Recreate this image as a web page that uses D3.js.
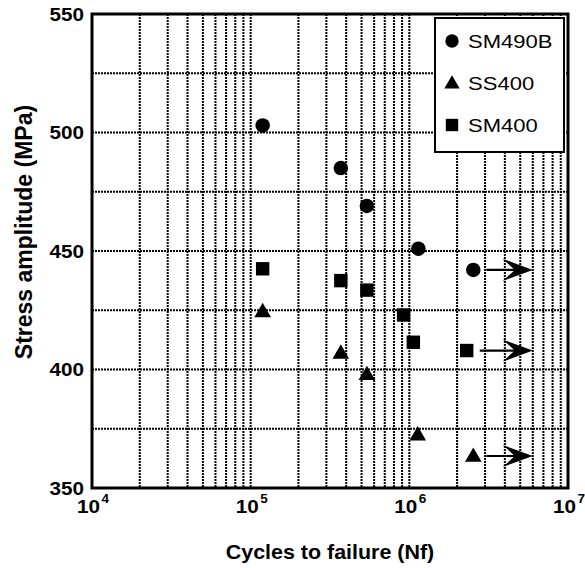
<!DOCTYPE html>
<html>
<head>
<meta charset="utf-8">
<script src="https://cdn.jsdelivr.net/npm/d3@7"></script>
<style>
  html, body { margin: 0; padding: 0; background: #fff; }
  svg { display: block; }
  text { font-family: "Liberation Sans", Arial, Helvetica, sans-serif; fill: #000; }
</style>
</head>
<body>
<svg id="chart" width="585" height="568"></svg>
<script>
// ---- data ----
const seriesNames = ["SM490B", "SS400", "SM400"];
const seriesSymbols = ["circle", "triangle", "square"];
const sm490bCycles = [1.19e5, 3.7e5, 5.4e5, 1.14e6, 2.53e6];
const sm490bStress = [503, 485, 469, 451, 442];
const ss400Cycles  = [1.19e5, 3.7e5, 5.4e5, 1.13e6, 2.53e6];
const ss400Stress  = [424.5, 407, 398, 372.5, 363.5];
const sm400Cycles  = [1.19e5, 3.7e5, 5.4e5, 9.2e5, 1.06e6, 2.3e6];
const sm400Stress  = [442.5, 437.5, 433.5, 423, 411.5, 408];
// last point of each series is a run-out (no failure), arrow drawn to:
const runoutArrowTo = 6e6;
const xTickExponents = [4, 5, 6, 7];
const yTickValues = [350, 400, 450, 500, 550];
const yGridValues = [375, 400, 425, 450, 475, 500, 525];

const cyclesBySeries = [sm490bCycles, ss400Cycles, sm400Cycles];
const stressBySeries = [sm490bStress, ss400Stress, sm400Stress];

// ---- layout ----
const svg = d3.select("#chart");
const L = 92, R = 568, T = 14, B = 488;
const x = d3.scaleLog().domain([1e4, 1e7]).range([L, R]);
const y = d3.scaleLinear().domain([350, 550]).range([B, T]);
const SX = 1.15; // horizontal stretch of the lettering in the original

function stretchedText(g, tx, ty, str, opts) {
  return g.append("text")
    .attr("transform", `translate(${tx},${ty}) scale(${opts.sx || SX},1)`)
    .attr("text-anchor", opts.anchor || "start")
    .style("font-size", opts.size + "px")
    .style("font-weight", opts.weight || "bold")
    .text(str);
}

// ---- grid ----
const xGridValues = [];
for (let e = 4; e < 7; e++) for (let m = 1; m <= 9; m++) xGridValues.push(m * Math.pow(10, e));
const grid = svg.append("g");
grid.selectAll("line.v").data(xGridValues.filter(v => v > 1e4)).enter().append("line")
  .attr("x1", d => x(d)).attr("x2", d => x(d)).attr("y1", T).attr("y2", B)
  .attr("stroke", "#000").attr("stroke-width", 2).attr("stroke-dasharray", "2,1");
grid.selectAll("line.h").data(yGridValues).enter().append("line")
  .attr("y1", d => y(d)).attr("y2", d => y(d)).attr("x1", L).attr("x2", R)
  .attr("stroke", "#000").attr("stroke-width", 2).attr("stroke-dasharray", "2,1");

// ---- frame ----
svg.append("rect").attr("x", L).attr("y", T).attr("width", R - L).attr("height", B - T)
  .attr("fill", "none").attr("stroke", "#000").attr("stroke-width", 3);

// ---- y tick labels ----
const yAxisG = svg.append("g");
yTickValues.forEach(v => {
  stretchedText(yAxisG, 84, y(v) + 6.5, String(v), { size: 18 , anchor: "end" });
});

// ---- x tick labels (10^n) ----
const xAxisG = svg.append("g");
xTickExponents.forEach(e => {
  const px = x(Math.pow(10, e));
  stretchedText(xAxisG, px + 8, 513, "10", { size: 18, anchor: "end" });
  stretchedText(xAxisG, px + 9.5, 503, String(e), { size: 13.5, anchor: "start", sx: 1.0 });
});

// ---- axis titles ----
stretchedText(svg, (L + R) / 2, 559, "Cycles to failure (Nf)", { size: 19.5, anchor: "middle", sx: 1.1 });
svg.append("text")
  .attr("transform", `translate(32,232) rotate(-90)`)
  .attr("text-anchor", "middle")
  .style("font-size", "23px").style("font-weight", "bold")
  .text("Stress amplitude (MPa)");

// ---- legend ----
const lg = svg.append("g");
lg.append("rect").attr("x", 435).attr("y", 18).attr("width", 129).attr("height", 134)
  .attr("fill", "#fff").attr("stroke", "#000").attr("stroke-width", 2);

const symType = { circle: d3.symbolCircle, triangle: d3.symbolTriangle, square: d3.symbolSquare };
const symSize = { circle: 165, triangle: 120, square: 180 };
const symShift = { circle: 0, triangle: 1, square: 0 };

seriesNames.forEach((name, i) => {
  const ly = 41 + i * 42;
  const s = seriesSymbols[i];
  lg.append("path").attr("d", d3.symbol().type(symType[s]).size(symSize[s] * 0.85)())
    .attr("transform", `translate(452,${ly + symShift[s]})`).attr("fill", "#000");
  stretchedText(lg, 468, ly + 7, name, { size: 19, weight: "normal", sx: 1.16 });
});

// ---- points and run-out arrows ----
const pts = svg.append("g");
seriesNames.forEach((name, i) => {
  const s = seriesSymbols[i];
  const data = cyclesBySeries[i].map((c, j) => ({ c, s: stressBySeries[i][j], runout: j === cyclesBySeries[i].length - 1 }));
  pts.selectAll(null).data(data).enter().append("path")
    .attr("d", d3.symbol().type(symType[s]).size(symSize[s])())
    .attr("transform", d => `translate(${x(d.c)},${y(d.s) + symShift[s]})`)
    .attr("fill", "#000");
  data.filter(d => d.runout).forEach(d => {
    const x0 = x(d.c) + 13, x1 = x(runoutArrowTo), yy = y(d.s);
    pts.append("line").attr("x1", x0).attr("x2", x1 - 12).attr("y1", yy).attr("y2", yy)
      .attr("stroke", "#000").attr("stroke-width", 2.2);
    pts.append("path")
      .attr("d", `M${x1},${yy} L${x1 - 30},${yy - 11} L${x1 - 18},${yy} L${x1 - 30},${yy + 11} Z`)
      .attr("fill", "#000");
  });
});
</script>
</body>
</html>
